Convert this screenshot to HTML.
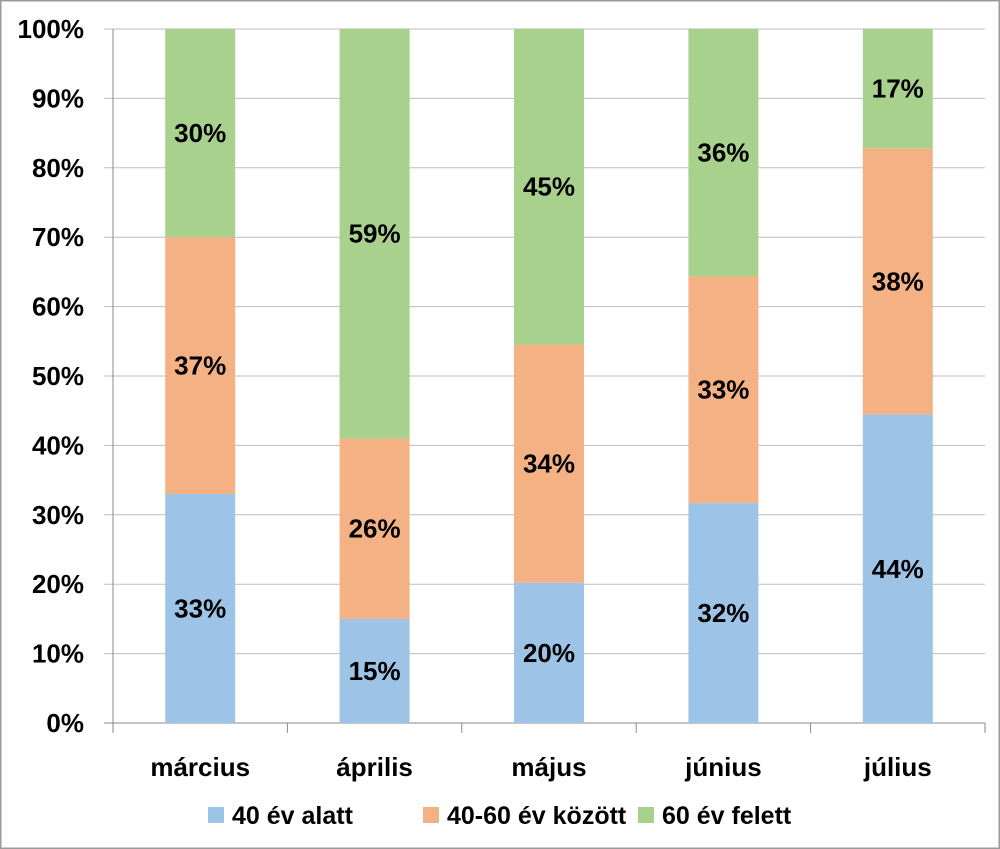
<!DOCTYPE html>
<html><head><meta charset="utf-8"><style>
body{margin:0;background:#fff}
svg{display:block;font-family:"Liberation Sans",Arial,sans-serif;font-weight:bold}
</style></head><body>
<svg id="chart" width="1000" height="849">
<rect x="0.5" y="0.5" width="999" height="848" fill="#fff" stroke="#9a9a9a" stroke-width="2"/>
<g id="grid"></g><g id="bars"></g><g id="labels"></g><g id="axes"></g><g id="legend"></g>
</svg>
<script>
const categories=["március","április","május","június","július"];
const seriesNames=["40 év alatt","40-60 év között","60 év felett"];
const under40=[33,15,20,32,44];
const mid4060=[37,26,34,33,38];
const over60=[30,59,45,36,17];
const yTicks=[0,10,20,30,40,50,60,70,80,90,100];
const colors=["#9dc3e6","#f4b183","#a9d18e"];
const NS="http://www.w3.org/2000/svg";
const X0=113,X1=985,Y0=723,Y1=29;
const bw=(X1-X0)/categories.length, barW=70;
function y(v){return Y0-(Y0-Y1)*v/100;}
function xc(i){return X0+bw*(i+0.5);}
function mk(tag,attrs,parent,text){const e=document.createElementNS(NS,tag);for(const k in attrs)e.setAttribute(k,attrs[k]);if(text!==undefined)e.textContent=text;document.getElementById(parent).appendChild(e);return e;}
yTicks.forEach(t=>{
 const l=mk("line",{x1:104,x2:X1,y1:y(t),y2:y(t),stroke:t===0?"#888":"#bdbdbd","stroke-width":1},"grid");
 
 
 const tx=mk("text",{x:84,y:y(t)+9,"text-anchor":"end","font-size":26,fill:"#000"},"axes",t+"%");
 
 
});
const ya=mk("line",{x1:X0,x2:X0,y1:Y1,y2:Y0+10,stroke:"#888"},"axes");


for(let i=0;i<=categories.length;i++){
 const tk=mk("line",{x1:X0+bw*i,x2:X0+bw*i,y1:Y0,y2:Y0+10,stroke:"#888"},"axes");
 
 
}
const series=[under40,mid4060,over60];
categories.forEach((c,i)=>{
 const total=series.reduce((s,a)=>s+a[i],0);
 let acc=0;
 series.forEach((arr,si)=>{
  const v0=acc/total*100, v1=(acc+arr[i])/total*100; acc+=arr[i];
  const r=mk("rect",{x:xc(i)-barW/2,y:y(v1),width:barW,height:y(v0)-y(v1),fill:colors[si]},"bars");
  
  
  const t=mk("text",{x:xc(i),y:(y(v0)+y(v1))/2+9,"text-anchor":"middle","font-size":26,fill:"#000"},"labels",arr[i]+"%");
  
  
 });
 const xl=mk("text",{x:xc(i),y:776,"text-anchor":"middle","font-size":26,fill:"#000"},"axes",c);
 
 
});
const legX=[208,423,638];
seriesNames.forEach((n,i)=>{
 const s=mk("rect",{x:legX[i],y:807,width:16,height:16,fill:colors[i]},"legend");
 
 
 const t=mk("text",{x:legX[i]+24,y:824,"font-size":25,fill:"#000"},"legend",n);
 
 
});
</script>
</body></html>
